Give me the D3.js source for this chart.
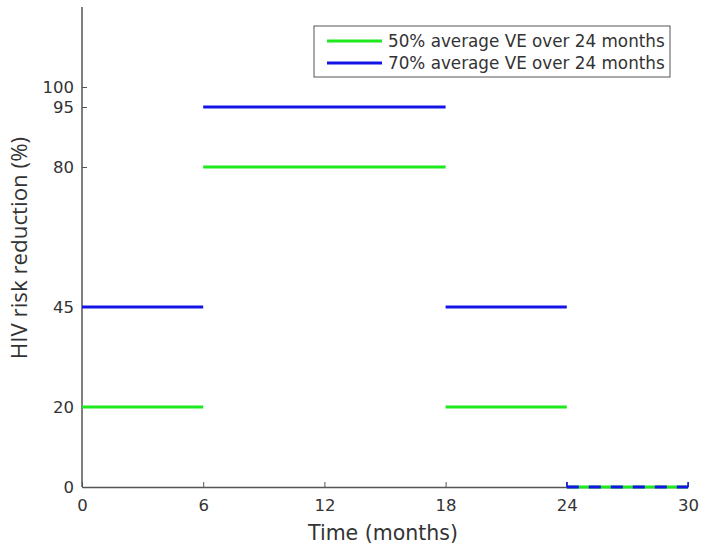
<!DOCTYPE html>
<html>
<head>
<meta charset="utf-8">
<script src="https://cdn.jsdelivr.net/npm/d3@7"></script>
<style>
  body { margin: 0; background: #fff; }
  text { font-family: "DejaVu Sans", sans-serif; fill: #333; }
</style>
</head>
<body>
<script>
// step segments: [start month, end month, reduction %]
const greenSteps = [[0, 6, 20], [6, 18, 80], [18, 24, 20]];
const blueSteps = [[0, 6, 45], [6, 18, 95], [18, 24, 45]];
const tailSegment = [24, 30, 0];
const seriesNames = ['50% average VE over 24 months', '70% average VE over 24 months'];
const xTicks = [0, 6, 12, 18, 24, 30];
const yTicks = [0, 20, 45, 80, 95, 100];

const width = 701, height = 547;
const margin = { top: 7, right: 13, bottom: 60, left: 82 };

const svg = d3.select('body')
  .append('svg')
  .attr('width', width)
  .attr('height', height);

const x = d3.scaleLinear().domain([0, 30]).range([margin.left, width - margin.right]);
const y = d3.scaleLinear().domain([0, 120]).range([height - margin.bottom, margin.top]);

const axisColor = '#555';

// axes (MATLAB style: ticks inward)
const xAxis = svg.append('g')
  .attr('transform', `translate(0, ${y(0)})`)
  .call(d3.axisBottom(x).tickValues(xTicks).tickSizeInner(-5).tickSizeOuter(0).tickPadding(12));

const yAxis = svg.append('g')
  .attr('transform', `translate(${x(0)}, 0)`)
  .call(d3.axisLeft(y).tickValues(yTicks).tickSizeInner(-5).tickSizeOuter(0).tickPadding(8));

[xAxis, yAxis].forEach(g => {
  g.select('.domain').attr('stroke', axisColor).attr('stroke-width', 1.5);
  g.selectAll('.tick line').attr('stroke', axisColor);
  g.selectAll('.tick text').attr('fill', '#333').style('font-size', '16.5px').style('font-family', '"DejaVu Sans", sans-serif');
});
yAxis.select('.domain').attr('d', `M0,${y(0)}V${y(120)}`);

// step lines
function drawSteps(data, color) {
  svg.selectAll(null)
    .data(data)
    .enter()
    .append('line')
    .attr('x1', d => x(d[0]))
    .attr('x2', d => x(d[1]))
    .attr('y1', d => y(d[2]))
    .attr('y2', d => y(d[2]))
    .attr('stroke', color)
    .attr('stroke-width', 3);
}
drawSteps(greenSteps, '#1ee81e');
drawSteps(blueSteps, '#1414e6');

// dashed tail at 0 after 24 months
svg.append('line')
  .attr('x1', x(tailSegment[0])).attr('x2', x(tailSegment[1]))
  .attr('y1', y(tailSegment[2])).attr('y2', y(tailSegment[2]))
  .attr('stroke', '#1ee81e').attr('stroke-width', 3);
svg.append('line')
  .attr('x1', x(tailSegment[0])).attr('x2', x(tailSegment[1]))
  .attr('y1', y(tailSegment[2])).attr('y2', y(tailSegment[2]))
  .attr('stroke', '#1414e6').attr('stroke-width', 3)
  .attr('stroke-dasharray', '12,10');
[tailSegment[0], tailSegment[1]].forEach(t => {
  svg.append('line')
    .attr('x1', x(t)).attr('x2', x(t))
    .attr('y1', y(0)).attr('y2', y(0) - 5)
    .attr('stroke', '#1414e6').attr('stroke-width', 1.5);
});

// legend
const legend = svg.append('g').attr('transform', 'translate(314, 26)');
legend.append('rect')
  .attr('width', 356).attr('height', 51)
  .attr('fill', '#fff').attr('stroke', '#555').attr('stroke-width', 1);
const legendColors = ['#1ee81e', '#1414e6'];
seriesNames.forEach((name, i) => {
  const ly = 15 + i * 22;
  legend.append('line')
    .attr('x1', 13).attr('x2', 68).attr('y1', ly).attr('y2', ly)
    .attr('stroke', legendColors[i]).attr('stroke-width', 3);
  legend.append('text')
    .attr('x', 74).attr('y', ly + 6)
    .style('font-size', '16.8px')
    .text(name);
});

// axis titles
svg.append('text')
  .attr('x', 383)
  .attr('y', 540)
  .attr('text-anchor', 'middle')
  .style('font-size', '20.5px')
  .text('Time (months)');

svg.append('text')
  .attr('transform', `translate(27, 248) rotate(-90)`)
  .attr('text-anchor', 'middle')
  .style('font-family', '"Open Sans", sans-serif')
  .style('font-size', '22.3px')
  .text('HIV risk reduction (%)');
</script>
</body>
</html>
